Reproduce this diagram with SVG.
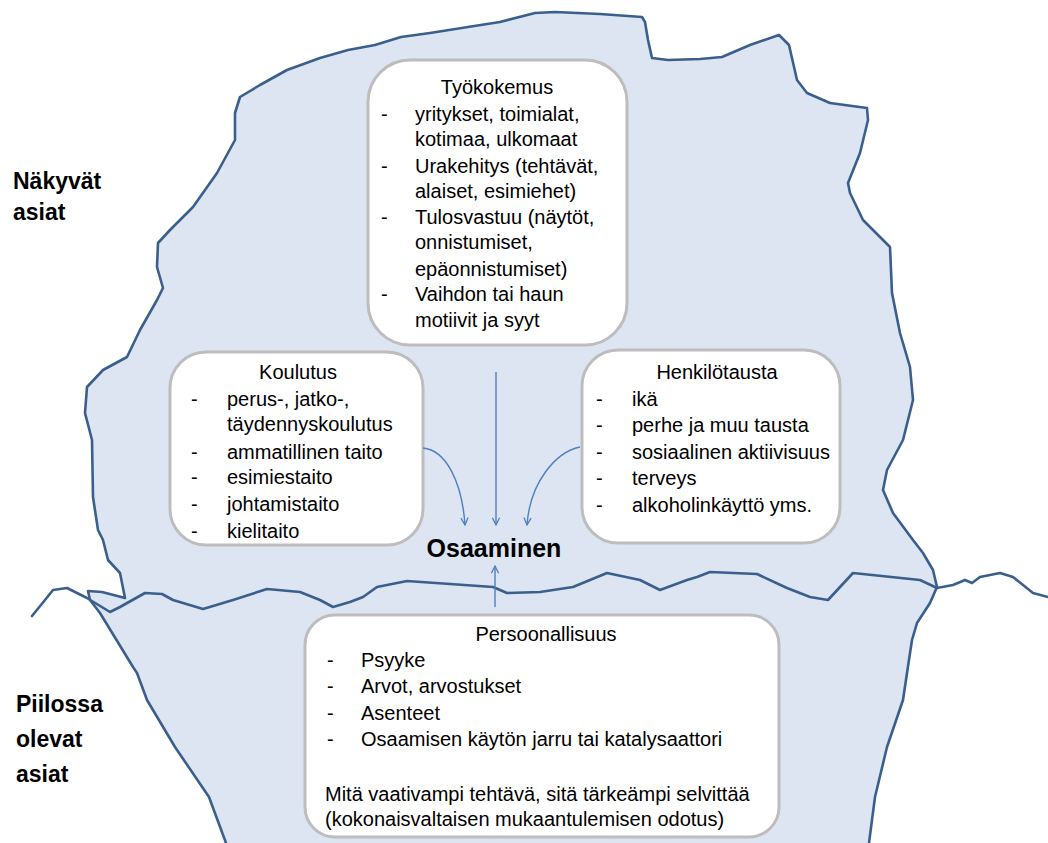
<svg xmlns="http://www.w3.org/2000/svg" width="1048" height="843" viewBox="0 0 1048 843">
  <defs>
    <style>
      .ice { fill: #dce5f1; stroke: #3b5f8c; stroke-width: 2.6; stroke-linejoin: round; }
      .water { fill: none; stroke: #3b5f8c; stroke-width: 2.6; stroke-linejoin: round; stroke-linecap: round; }
      .box { fill: #ffffff; stroke: #bdbdbd; stroke-width: 3; }
      .t { font-family: "Liberation Sans", Arial, sans-serif; font-size: 20px; fill: #000; }
      .tt { text-anchor: middle; }
      .lbl { font-family: "Liberation Sans", Arial, sans-serif; font-size: 23px; font-weight: bold; fill: #000; }
      .osa { font-family: "Liberation Sans", Arial, sans-serif; font-size: 25px; font-weight: bold; fill: #000; text-anchor: middle; }
      .arr { fill: none; stroke: #4f7fbf; stroke-width: 1.4; marker-end: url(#ah); }
    </style>
    <marker id="ah" viewBox="0 0 10 10" refX="9" refY="5" markerWidth="9" markerHeight="9" markerUnits="userSpaceOnUse" orient="auto">
      <path d="M1,1 L9,5 L1,9" fill="none" stroke="#4f7fbf" stroke-width="1.4"/>
    </marker>
  </defs>

  <g id="iceberg">
    <polygon class="ice" points="240,97 260,85 287,70 320,58 348,50 375,45 401,37 430,33 468,27 500,22 535,13 555,12 600,14 642,17 645,22 648,40 652,58 668,60 700,59 722,57 750,45 779,35 789,45 797,80 807,93 830,103 867,108 868,120 860,153 848,183 850,193 863,220 890,247 892,293 900,333 910,367 913,400 903,440 887,470 883,490 893,513 913,540 923,553 933,570 937,587 930,603 917,623 912,640 907,673 903,700 887,747 875,797 869,843 869,850 226,850 226,843 209,797 175,747 147,700 137,673 133,667 100,613 90,600 88,591 102,592 125,598 120,573 108,560 103,540 98,530 93,497 92,440 85,413 87,387 103,370 127,357 140,330 157,300 163,288 157,267 158,243 170,230 193,207 217,173 235,140 235,113"/>
    <polyline class="water" points="32,616 45,600 53,590 67,588 87,598 110,612 120,607 145,593 162,594 173,600 203,609 233,600 267,589 300,592 320,600 333,607 350,602 363,597 377,587 407,581 493,587 507,593 540,592 573,587 607,573 640,580 660,590 687,580 697,577 710,572 757,574 787,588 810,597 828,600 853,573 920,580 937,588 953,585 965,580 972,583 980,577 1000,573 1013,577 1033,593 1048,597"/>
  </g>

  <g id="label-visible">
    <text class="lbl" x="13" y="189">Näkyvät</text>
    <text class="lbl" x="13" y="220">asiat</text>
  </g>
  <g id="label-hidden">
    <text class="lbl" x="16" y="712">Piilossa</text>
    <text class="lbl" x="16" y="747">olevat</text>
    <text class="lbl" x="16" y="782">asiat</text>
  </g>

  <g id="tyokokemus">
    <rect class="box" x="368" y="60" width="259" height="285" rx="42" ry="42"/>
    <text class="t tt" x="497" y="94">Työkokemus</text>
    <text class="t" x="381" y="121">-</text>
    <text class="t" x="415" y="121">yritykset, toimialat,</text>
    <text class="t" x="415" y="146">kotimaa, ulkomaat</text>
    <text class="t" x="381" y="173">-</text>
    <text class="t" x="415" y="173">Urakehitys (tehtävät,</text>
    <text class="t" x="415" y="198">alaiset, esimiehet)</text>
    <text class="t" x="381" y="224">-</text>
    <text class="t" x="415" y="224">Tulosvastuu (näytöt,</text>
    <text class="t" x="415" y="249">onnistumiset,</text>
    <text class="t" x="415" y="276">epäonnistumiset)</text>
    <text class="t" x="381" y="301">-</text>
    <text class="t" x="415" y="301">Vaihdon tai haun</text>
    <text class="t" x="415" y="327">motiivit ja syyt</text>
  </g>

  <g id="koulutus">
    <rect class="box" x="170" y="352" width="253" height="193" rx="36" ry="36"/>
    <text class="t tt" x="298" y="379">Koulutus</text>
    <text class="t" x="191" y="406">-</text>
    <text class="t" x="227" y="406">perus-, jatko-,</text>
    <text class="t" x="227" y="431">täydennyskoulutus</text>
    <text class="t" x="191" y="459">-</text>
    <text class="t" x="227" y="459">ammatillinen taito</text>
    <text class="t" x="191" y="484">-</text>
    <text class="t" x="227" y="484">esimiestaito</text>
    <text class="t" x="191" y="511">-</text>
    <text class="t" x="227" y="511">johtamistaito</text>
    <text class="t" x="191" y="538">-</text>
    <text class="t" x="227" y="538">kielitaito</text>
  </g>

  <g id="henkilotausta">
    <rect class="box" x="582" y="350" width="258" height="193" rx="36" ry="36"/>
    <text class="t tt" x="717" y="379">Henkilötausta</text>
    <text class="t" x="596" y="406">-</text>
    <text class="t" x="632" y="406">ikä</text>
    <text class="t" x="596" y="432">-</text>
    <text class="t" x="632" y="432">perhe ja muu tausta</text>
    <text class="t" x="596" y="459">-</text>
    <text class="t" x="632" y="459">sosiaalinen aktiivisuus</text>
    <text class="t" x="596" y="485">-</text>
    <text class="t" x="632" y="485">terveys</text>
    <text class="t" x="596" y="512">-</text>
    <text class="t" x="632" y="512">alkoholinkäyttö yms.</text>
  </g>

  <g id="persoonallisuus">
    <rect class="box" x="305" y="615" width="474" height="222" rx="30" ry="30"/>
    <text class="t tt" x="546" y="641">Persoonallisuus</text>
    <text class="t" x="327" y="667">-</text>
    <text class="t" x="361" y="667">Psyyke</text>
    <text class="t" x="327" y="693">-</text>
    <text class="t" x="361" y="693">Arvot, arvostukset</text>
    <text class="t" x="327" y="720">-</text>
    <text class="t" x="361" y="720">Asenteet</text>
    <text class="t" x="327" y="746">-</text>
    <text class="t" x="361" y="746">Osaamisen käytön jarru tai katalysaattori</text>
    <text class="t" x="325" y="801">Mitä vaativampi tehtävä, sitä tärkeämpi selvittää</text>
    <text class="t" x="325" y="826">(kokonaisvaltaisen mukaantulemisen odotus)</text>
  </g>

  <g id="osaaminen">
    <text class="osa" x="494" y="557">Osaaminen</text>
  </g>

  <g id="connectors">
    <path class="arr" d="M496,372 L496,525"/>
    <path class="arr" d="M423,448 C446,450 462,482 465,525"/>
    <path class="arr" d="M580,447 C556,452 530,482 527,525"/>
    <path class="arr" d="M495,607 L495,566"/>
  </g>
</svg>
